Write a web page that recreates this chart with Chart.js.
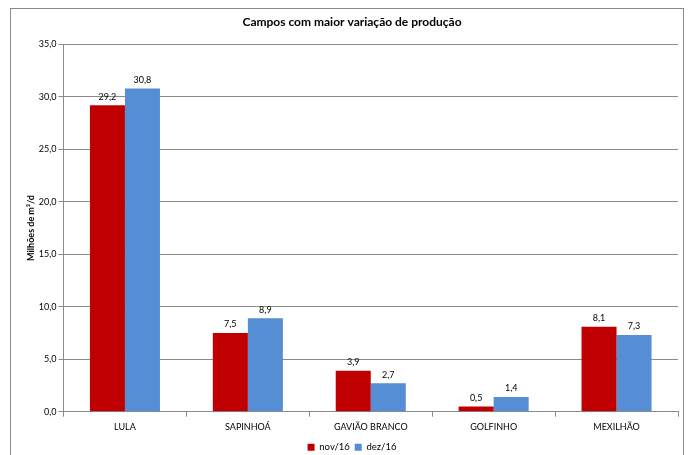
<!DOCTYPE html>
<html><head><meta charset="utf-8">
<script src="https://cdn.jsdelivr.net/npm/chart.js@4/dist/chart.umd.min.js"></script>
<style>html,body{margin:0;padding:0;background:#fff;overflow:hidden}#wrap{width:691px;height:462px;position:relative}</style>
</head><body><div id="wrap"><canvas id="c"></canvas></div>
<script>
const categories = ["LULA", "SAPINHOÁ", "GAVIÃO BRANCO", "GOLFINHO", "MEXILHÃO"];
const nov16 = [29.2, 7.5, 3.9, 0.5, 8.1];
const dez16 = [30.8, 8.9, 2.7, 1.4, 7.3];
const seriesNames = ["nov/16", "dez/16"];
const FONT = "Lato, 'Open Sans', sans-serif";
const fmt = v => v.toFixed(1).replace('.', ',');

const frame = {
  id: 'frame',
  beforeDraw(chart) {
    const ctx = chart.ctx;
    ctx.save();
    ctx.strokeStyle = '#8a8a8a';
    ctx.lineWidth = 1;
    ctx.strokeRect(10.5, 8.5, 673, 470);
    ctx.restore();
  }
};
const labels = {
  id: 'barLabels',
  afterDatasetsDraw(chart) {
    const ctx = chart.ctx;
    ctx.save();
    ctx.fillStyle = '#000';
    ctx.font = '9px ' + FONT;
    ctx.textAlign = 'center';
    ctx.textBaseline = 'bottom';
    chart.data.datasets.forEach((ds, i) => {
      chart.getDatasetMeta(i).data.forEach((el, j) => {
        ctx.fillText(fmt(ds.data[j]), el.x, el.y - 4);
      });
    });
    ctx.restore();
  }
};

new Chart(document.getElementById('c'), {
  type: 'bar',
  data: {
    labels: categories,
    datasets: [
      { label: seriesNames[0], data: nov16, backgroundColor: '#C00000' },
      { label: seriesNames[1], data: dez16, backgroundColor: '#558ED5' }
    ]
  },
  options: {
    responsive: true,
    maintainAspectRatio: false,
    animation: false,
    layout: { padding: { left: 26, right: 13, top: 15, bottom: 0 } },
    datasets: { bar: { categoryPercentage: 0.57, barPercentage: 1.0 } },
    plugins: {
      title: { display: true, text: 'Campos com maior variação de produção', color: '#000',
        font: { family: FONT, size: 12, weight: 'bold' }, padding: { top: 0, bottom: 15 } },
      legend: { position: 'bottom', labels: { boxWidth: 7, boxHeight: 7, color: '#000', padding: 5,
        font: { family: FONT, size: 9.5 } } },
      tooltip: { enabled: false }
    },
    scales: {
      x: {
        grid: { display: true, offset: true, drawOnChartArea: false, tickLength: 5, color: '#8a8a8a' },
        border: { color: '#8a8a8a' },
        ticks: { color: '#000', font: { family: FONT, size: 9 }, padding: 5 }
      },
      y: {
        min: 0, max: 35,
        ticks: { stepSize: 5, color: '#000', font: { family: FONT, size: 9 }, padding: 2,
          callback: v => fmt(v) },
        grid: { color: '#8a8a8a', tickLength: 5 },
        border: { color: '#8a8a8a' },
        title: { display: true, text: 'Milhões de m³/d', color: '#000',
          font: { family: FONT, size: 9, weight: 'bold' }, padding: { top: 0, bottom: 0 } }
      }
    }
  },
  plugins: [frame, labels]
});
</script></body></html>
